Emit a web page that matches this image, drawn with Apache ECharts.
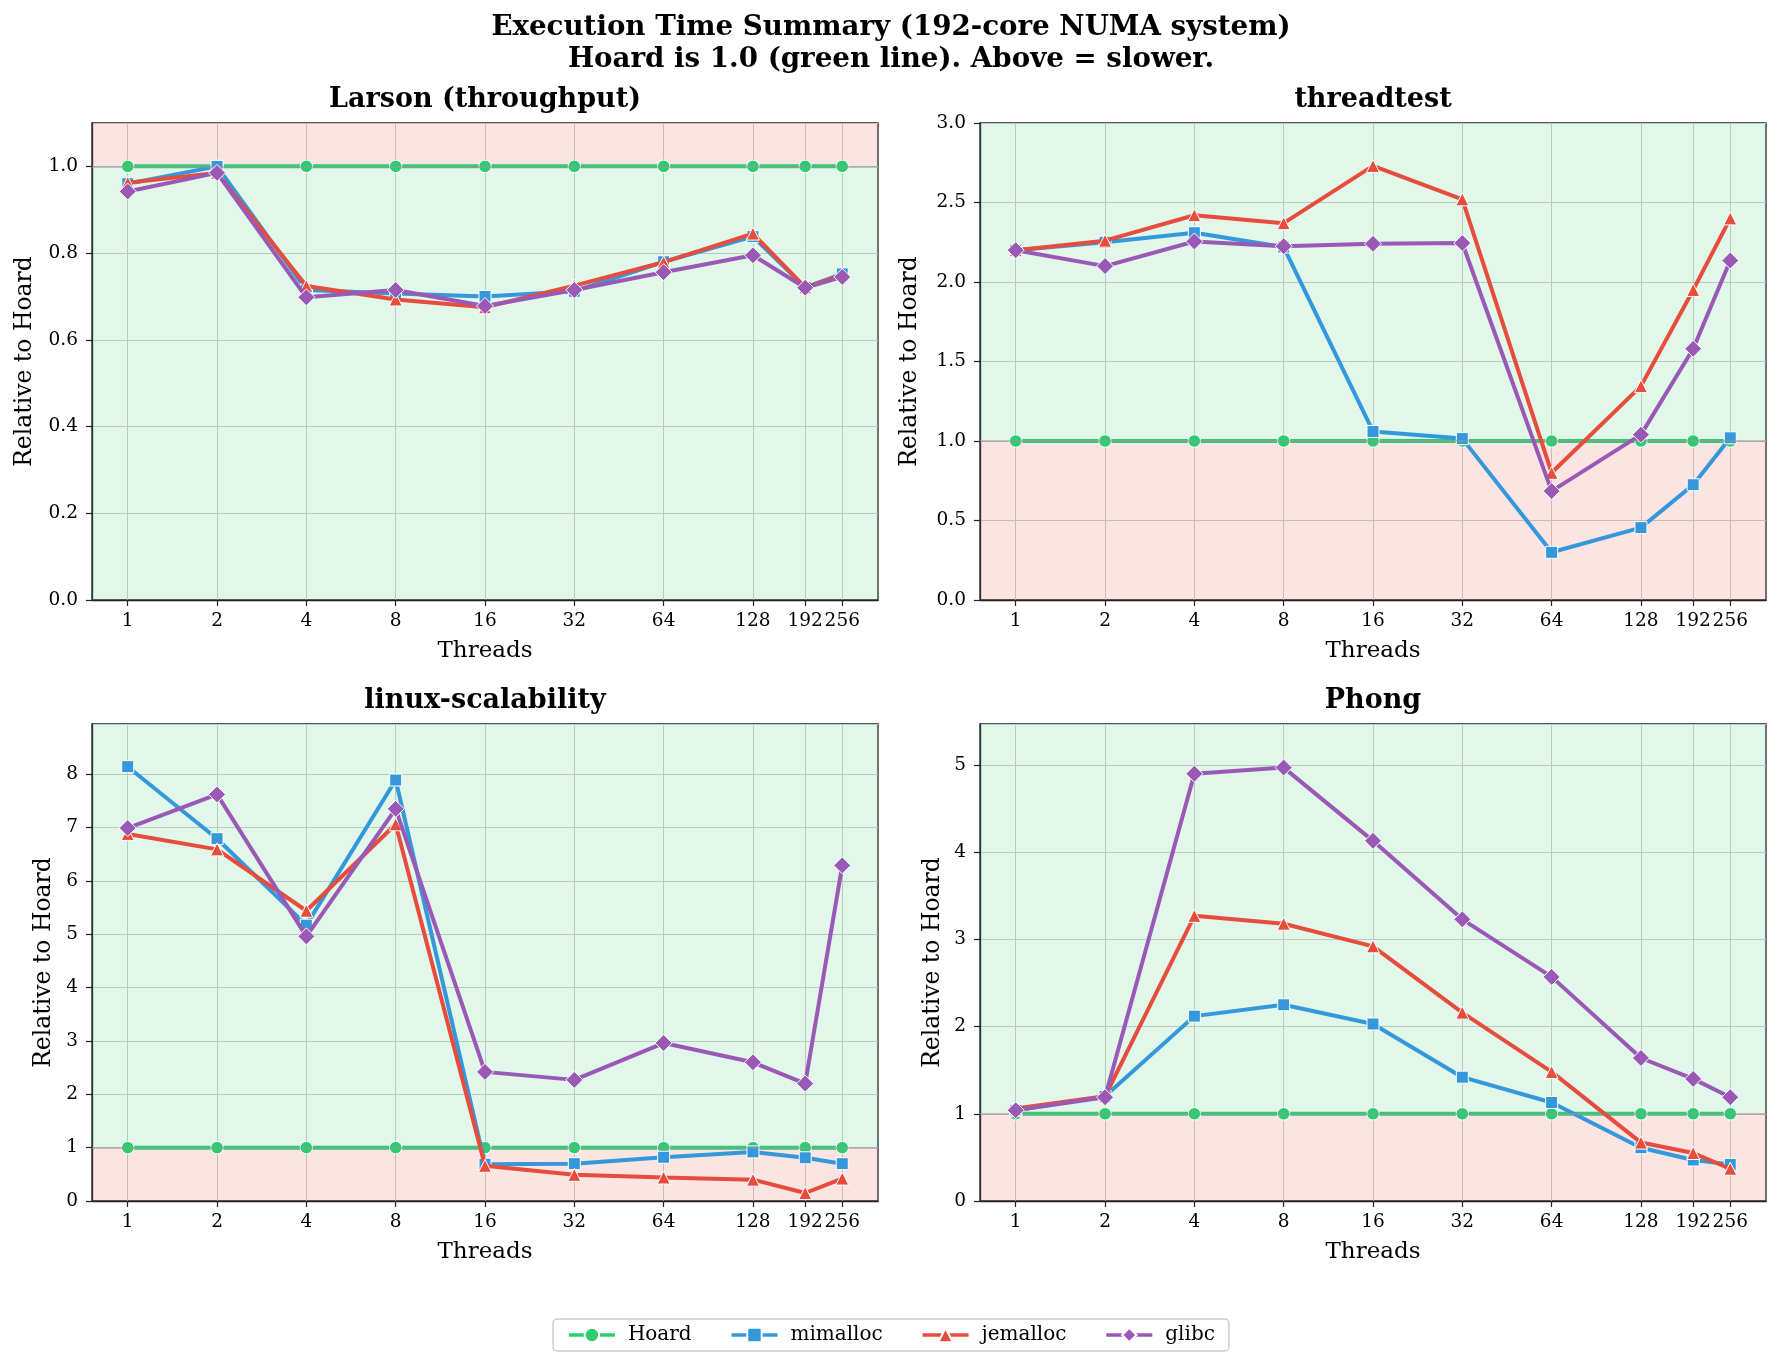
<!DOCTYPE html>
<html lang="en">
<head>
<meta charset="UTF-8">
<title>Execution Time Summary</title>
<script src="https://cdn.jsdelivr.net/npm/echarts@6/dist/echarts.min.js"></script>
<style>
    html, body { margin: 0; padding: 0; background: #fff; }
    #chart { width: 1782px; height: 1372px; }
</style>
</head>
<body>
<div id="chart"></div>
<script>
// x categories (thread counts), log2 axis
var threads = [1, 2, 4, 8, 16, 32, 64, 128, 192, 256];
var allocators = ['Hoard', 'mimalloc', 'jemalloc', 'glibc'];
var panelTitles = ['Larson (throughput)', 'threadtest', 'linux-scalability', 'Phong'];

// values relative to Hoard
var hoard = [1, 1, 1, 1, 1, 1, 1, 1, 1, 1];

var larsonMimalloc = [0.96, 1.00, 0.715, 0.707, 0.70, 0.712, 0.78, 0.838, 0.721, 0.752];
var larsonJemalloc = [0.962, 0.985, 0.724, 0.693, 0.675, 0.725, 0.779, 0.845, 0.721, 0.750];
var larsonGlibc = [0.942, 0.985, 0.698, 0.715, 0.678, 0.715, 0.756, 0.795, 0.720, 0.745];

var threadtestMimalloc = [2.20, 2.25, 2.31, 2.22, 1.06, 1.015, 0.30, 0.455, 0.725, 1.02];
var threadtestJemalloc = [2.20, 2.26, 2.42, 2.37, 2.73, 2.52, 0.80, 1.345, 1.95, 2.40];
var threadtestGlibc = [2.20, 2.10, 2.255, 2.225, 2.24, 2.245, 0.685, 1.04, 1.58, 2.135];

var linuxMimalloc = [8.14, 6.79, 5.17, 7.89, 0.69, 0.70, 0.82, 0.92, 0.81, 0.70];
var linuxJemalloc = [6.88, 6.59, 5.44, 7.06, 0.66, 0.49, 0.44, 0.40, 0.15, 0.42];
var linuxGlibc = [6.99, 7.62, 4.96, 7.35, 2.42, 2.27, 2.96, 2.60, 2.20, 6.29];

var phongMimalloc = [1.04, 1.20, 2.12, 2.25, 2.03, 1.42, 1.13, 0.61, 0.47, 0.42];
var phongJemalloc = [1.06, 1.20, 3.27, 3.18, 2.92, 2.16, 1.48, 0.67, 0.55, 0.37];
var phongGlibc = [1.04, 1.19, 4.90, 4.97, 4.13, 3.23, 2.57, 1.64, 1.40, 1.19];

var panelData = [
    [hoard, larsonMimalloc, larsonJemalloc, larsonGlibc],
    [hoard, threadtestMimalloc, threadtestJemalloc, threadtestGlibc],
    [hoard, linuxMimalloc, linuxJemalloc, linuxGlibc],
    [hoard, phongMimalloc, phongJemalloc, phongGlibc]
];

// y axis setup per panel
var yMax = [1.1, 3.0, 8.94, 5.47];
var yStep = [0.2, 0.5, 1, 1];
var yDecimals = [1, 1, 0, 0];
var yShowMax = [false, true, false, false];

var colors = ['#2ecc71', '#3498db', '#e74c3c', '#9b59b6'];
var symbols = ['circle', 'rect', 'triangle', 'diamond'];
var symbolSizes = [12.5, 12, 13, 17];

var FONT = 'DejaVu Serif';
var greenBg = 'rgba(46, 204, 113, 0.15)';
var redBg = 'rgba(231, 76, 60, 0.15)';

var gridLeft = [92, 980, 92, 980];
var gridTop = [123, 123, 724, 724];
var gridW = 786, gridH = 477;
var yNameGap = [55, 58, 36, 35];

var grids = [], xAxes = [], yAxes = [], series = [], titles = [];

titles.push({
    text: 'Execution Time Summary (192-core NUMA system)\nHoard is 1.0 (green line). Above = slower.',
    left: 'center',
    top: 7,
    textStyle: { fontFamily: FONT, fontWeight: 'bold', fontSize: 27.7, lineHeight: 32, color: '#000' }
});

for (var p = 0; p < 4; p++) {
    grids.push({
        left: gridLeft[p], top: gridTop[p], width: gridW, height: gridH,
        show: true, borderColor: '#222', borderWidth: 1.3, backgroundColor: 'transparent'
    });
    titles.push({
        text: panelTitles[p],
        left: gridLeft[p] + gridW / 2,
        top: gridTop[p] - 37,
        textAlign: 'center',
        padding: 0,
        textStyle: { fontFamily: FONT, fontWeight: 'bold', fontSize: 27, color: '#000' }
    });
    xAxes.push({
        type: 'log',
        logBase: 2,
        gridIndex: p,
        min: Math.pow(2, -0.4),
        max: Math.pow(2, 8.4),
        name: 'Threads',
        nameLocation: 'middle',
        nameGap: 40,
        nameTextStyle: { fontFamily: FONT, fontSize: 23, color: '#000' },
        axisLine: { show: true, lineStyle: { color: '#222', width: 1.3 } },
        axisTick: { show: true, customValues: threads, length: 6, lineStyle: { color: '#222', width: 1.2 } },
        axisLabel: {
            customValues: threads,
            fontFamily: FONT, fontSize: 18.5, color: '#000', margin: 12,
            formatter: function (v) { return String(Math.round(v)); }
        },
        splitLine: { show: true, lineStyle: { color: '#cccccc', width: 1 } },
        minorTick: { show: false },
        minorSplitLine: { show: false }
    });
    (function (dec) {
        yAxes.push({
            type: 'value',
            gridIndex: p,
            min: 0,
            max: yMax[p],
            interval: yStep[p],
            name: 'Relative to Hoard',
            nameLocation: 'middle',
            nameRotate: 90,
            nameGap: yNameGap[p],
            nameTextStyle: { fontFamily: FONT, fontSize: 23.5, color: '#000' },
            axisLine: { show: true, lineStyle: { color: '#222', width: 1.3 } },
            axisTick: { show: true, length: 6, lineStyle: { color: '#222', width: 1.2 } },
            axisLabel: {
                fontFamily: FONT, fontSize: 18.5, color: '#000', margin: 14, showMaxLabel: yShowMax[p],
                formatter: function (v) { return v.toFixed(dec); }
            },
            splitLine: { show: true, lineStyle: { color: '#cccccc', width: 1 } }
        });
    })(yDecimals[p]);

    // Larson is throughput: higher is better, so shading is flipped
    var upper = p === 0 ? redBg : greenBg;
    var lower = p === 0 ? greenBg : redBg;

    // background bands and the grey reference line at 1.0, kept under the lines
    series.push({
        name: 'bands',
        type: 'line',
        xAxisIndex: p,
        yAxisIndex: p,
        data: [],
        z: 1,
        silent: true,
        markArea: {
            silent: true,
            data: [
                [{ yAxis: 1, itemStyle: { color: upper } }, { yAxis: yMax[p] }],
                [{ yAxis: 0, itemStyle: { color: lower } }, { yAxis: 1 }]
            ]
        },
        markLine: {
            silent: true,
            symbol: 'none',
            label: { show: false },
            lineStyle: { color: '#999', width: 1.5, type: 'solid', opacity: 0.7 },
            data: [{ yAxis: 1 }]
        }
    });

    for (var a = 0; a < allocators.length; a++) {
        var vals = panelData[p][a];
        series.push({
            name: allocators[a],
            type: 'line',
            xAxisIndex: p,
            yAxisIndex: p,
            data: threads.map(function (t, i) { return [t, vals[i]]; }),
            symbol: symbols[a],
            symbolSize: symbolSizes[a],
            showAllSymbol: true,
            lineStyle: { color: colors[a], width: 4 },
            itemStyle: { color: colors[a], borderColor: '#fff', borderWidth: 1 },
            emphasis: { disabled: true },
            z: 3 + a
        });
    }
}

var chart = echarts.init(document.getElementById('chart'));
chart.setOption({
    animation: false,
    backgroundColor: '#fff',
    title: titles,
    legend: {
        data: allocators,
        left: 'center',
        top: 1319,
        padding: [6, 14],
        itemGap: 38,
        itemWidth: 46,
        itemHeight: 18,
        lineStyle: { width: 3.6 },
        borderColor: '#cccccc',
        borderWidth: 1.5,
        borderRadius: 4,
        textStyle: { fontFamily: FONT, fontSize: 20, color: '#000', padding: [0, 0, 0, 8] }
    },
    grid: grids,
    xAxis: xAxes,
    yAxis: yAxes,
    series: series
});
</script>
</body>
</html>
